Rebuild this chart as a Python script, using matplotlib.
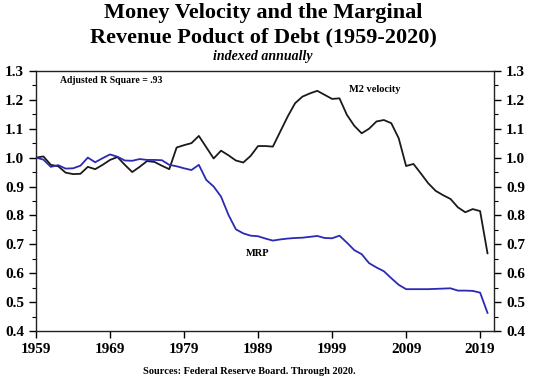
import numpy as np
import matplotlib.pyplot as plt
from matplotlib.ticker import MultipleLocator

years = list(range(1959, 2021))

m2_velocity = [1.000, 1.004, 0.975, 0.970, 0.948, 0.943, 0.944, 0.968, 0.960, 0.975,
               0.992, 1.002, 0.975, 0.950, 0.968, 0.988, 0.985, 0.972, 0.960, 1.035,
               1.043, 1.050, 1.075, 1.036, 0.997, 1.024, 1.008, 0.990, 0.983, 1.006,
               1.040, 1.040, 1.038, 1.090, 1.142, 1.188, 1.211, 1.222, 1.231, 1.217,
               1.203, 1.205, 1.148, 1.110, 1.084, 1.100, 1.125, 1.130, 1.119, 1.067,
               0.971, 0.978, 0.945, 0.911, 0.885, 0.870, 0.857, 0.828, 0.811, 0.822,
               0.815, 0.669]

mrp = [1.000, 0.993, 0.968, 0.974, 0.962, 0.963, 0.972, 1.000, 0.984, 0.998,
       1.011, 1.003, 0.990, 0.989, 0.995, 0.992, 0.992, 0.991, 0.975, 0.970,
       0.963, 0.957, 0.975, 0.923, 0.900, 0.865, 0.802, 0.752, 0.738, 0.730,
       0.728, 0.720, 0.713, 0.717, 0.720, 0.722, 0.723, 0.726, 0.729, 0.722,
       0.721, 0.730, 0.706, 0.680, 0.666, 0.635, 0.620, 0.607, 0.583, 0.560,
       0.545, 0.545, 0.545, 0.545, 0.546, 0.547, 0.548, 0.540, 0.540, 0.539,
       0.533, 0.463]

xticks = [1959, 1969, 1979, 1989, 1999, 2009, 2019]

plt.rcParams['font.family'] = ['Liberation Serif', 'DejaVu Serif']
plt.rcParams['font.weight'] = 'bold'


def main():
    fig = plt.figure(figsize=(5.54, 3.81), dpi=100)
    ax = fig.add_axes([0.065, 0.131, 0.827, 0.683])

    ax.plot(years, m2_velocity, color='#1a1a1a', lw=1.3)
    ax.plot(years, mrp, color='#2a2ab4', lw=1.3)

    ax.set_xlim(1959, 2020.9)
    ax.set_ylim(0.4, 1.3)
    ax.set_xticks(xticks)
    ax.yaxis.set_major_locator(MultipleLocator(0.1))
    ax.yaxis.set_minor_locator(MultipleLocator(0.05))
    ax.yaxis.set_major_formatter(plt.FormatStrFormatter('%.1f'))
    ax.tick_params(axis='y', which='both', left=True, right=True,
                   labelleft=True, labelright=True, direction='out')
    ax.tick_params(axis='both', which='major', labelsize=11, length=5, width=1)
    ax.tick_params(axis='y', which='minor', length=3, width=0.8)
    for lab in ax.get_xticklabels() + ax.get_yticklabels():
        lab.set_fontweight('bold')
    for s in ax.spines.values():
        s.set_linewidth(1.0)
        s.set_color('#222222')

    ax.text(1962.2, 1.265, 'Adjusted R Square = .93', fontsize=7, fontweight='bold', va='center')
    ax.text(2001.3, 1.235, 'M2 velocity', fontsize=7.5, fontweight='bold', va='center')
    ax.text(1987.4, 0.67, 'MRP', fontsize=7.5, fontweight='bold', va='center')

    fig.text(0.475, 0.966, 'Money Velocity and the Marginal', ha='center', va='center',
             fontsize=16, fontweight='bold')
    fig.text(0.475, 0.902, 'Revenue Poduct of Debt (1959-2020)', ha='center', va='center',
             fontsize=16, fontweight='bold')
    fig.text(0.475, 0.851, 'indexed annually', ha='center', va='center',
             fontsize=10, fontweight='bold', style='italic')
    fig.text(0.45, 0.025, 'Sources: Federal Reserve Board. Through 2020.', ha='center',
             va='center', fontsize=7.5, fontweight='bold')

    fig.savefig('out.png', dpi=100)


if __name__ == '__main__': main()
